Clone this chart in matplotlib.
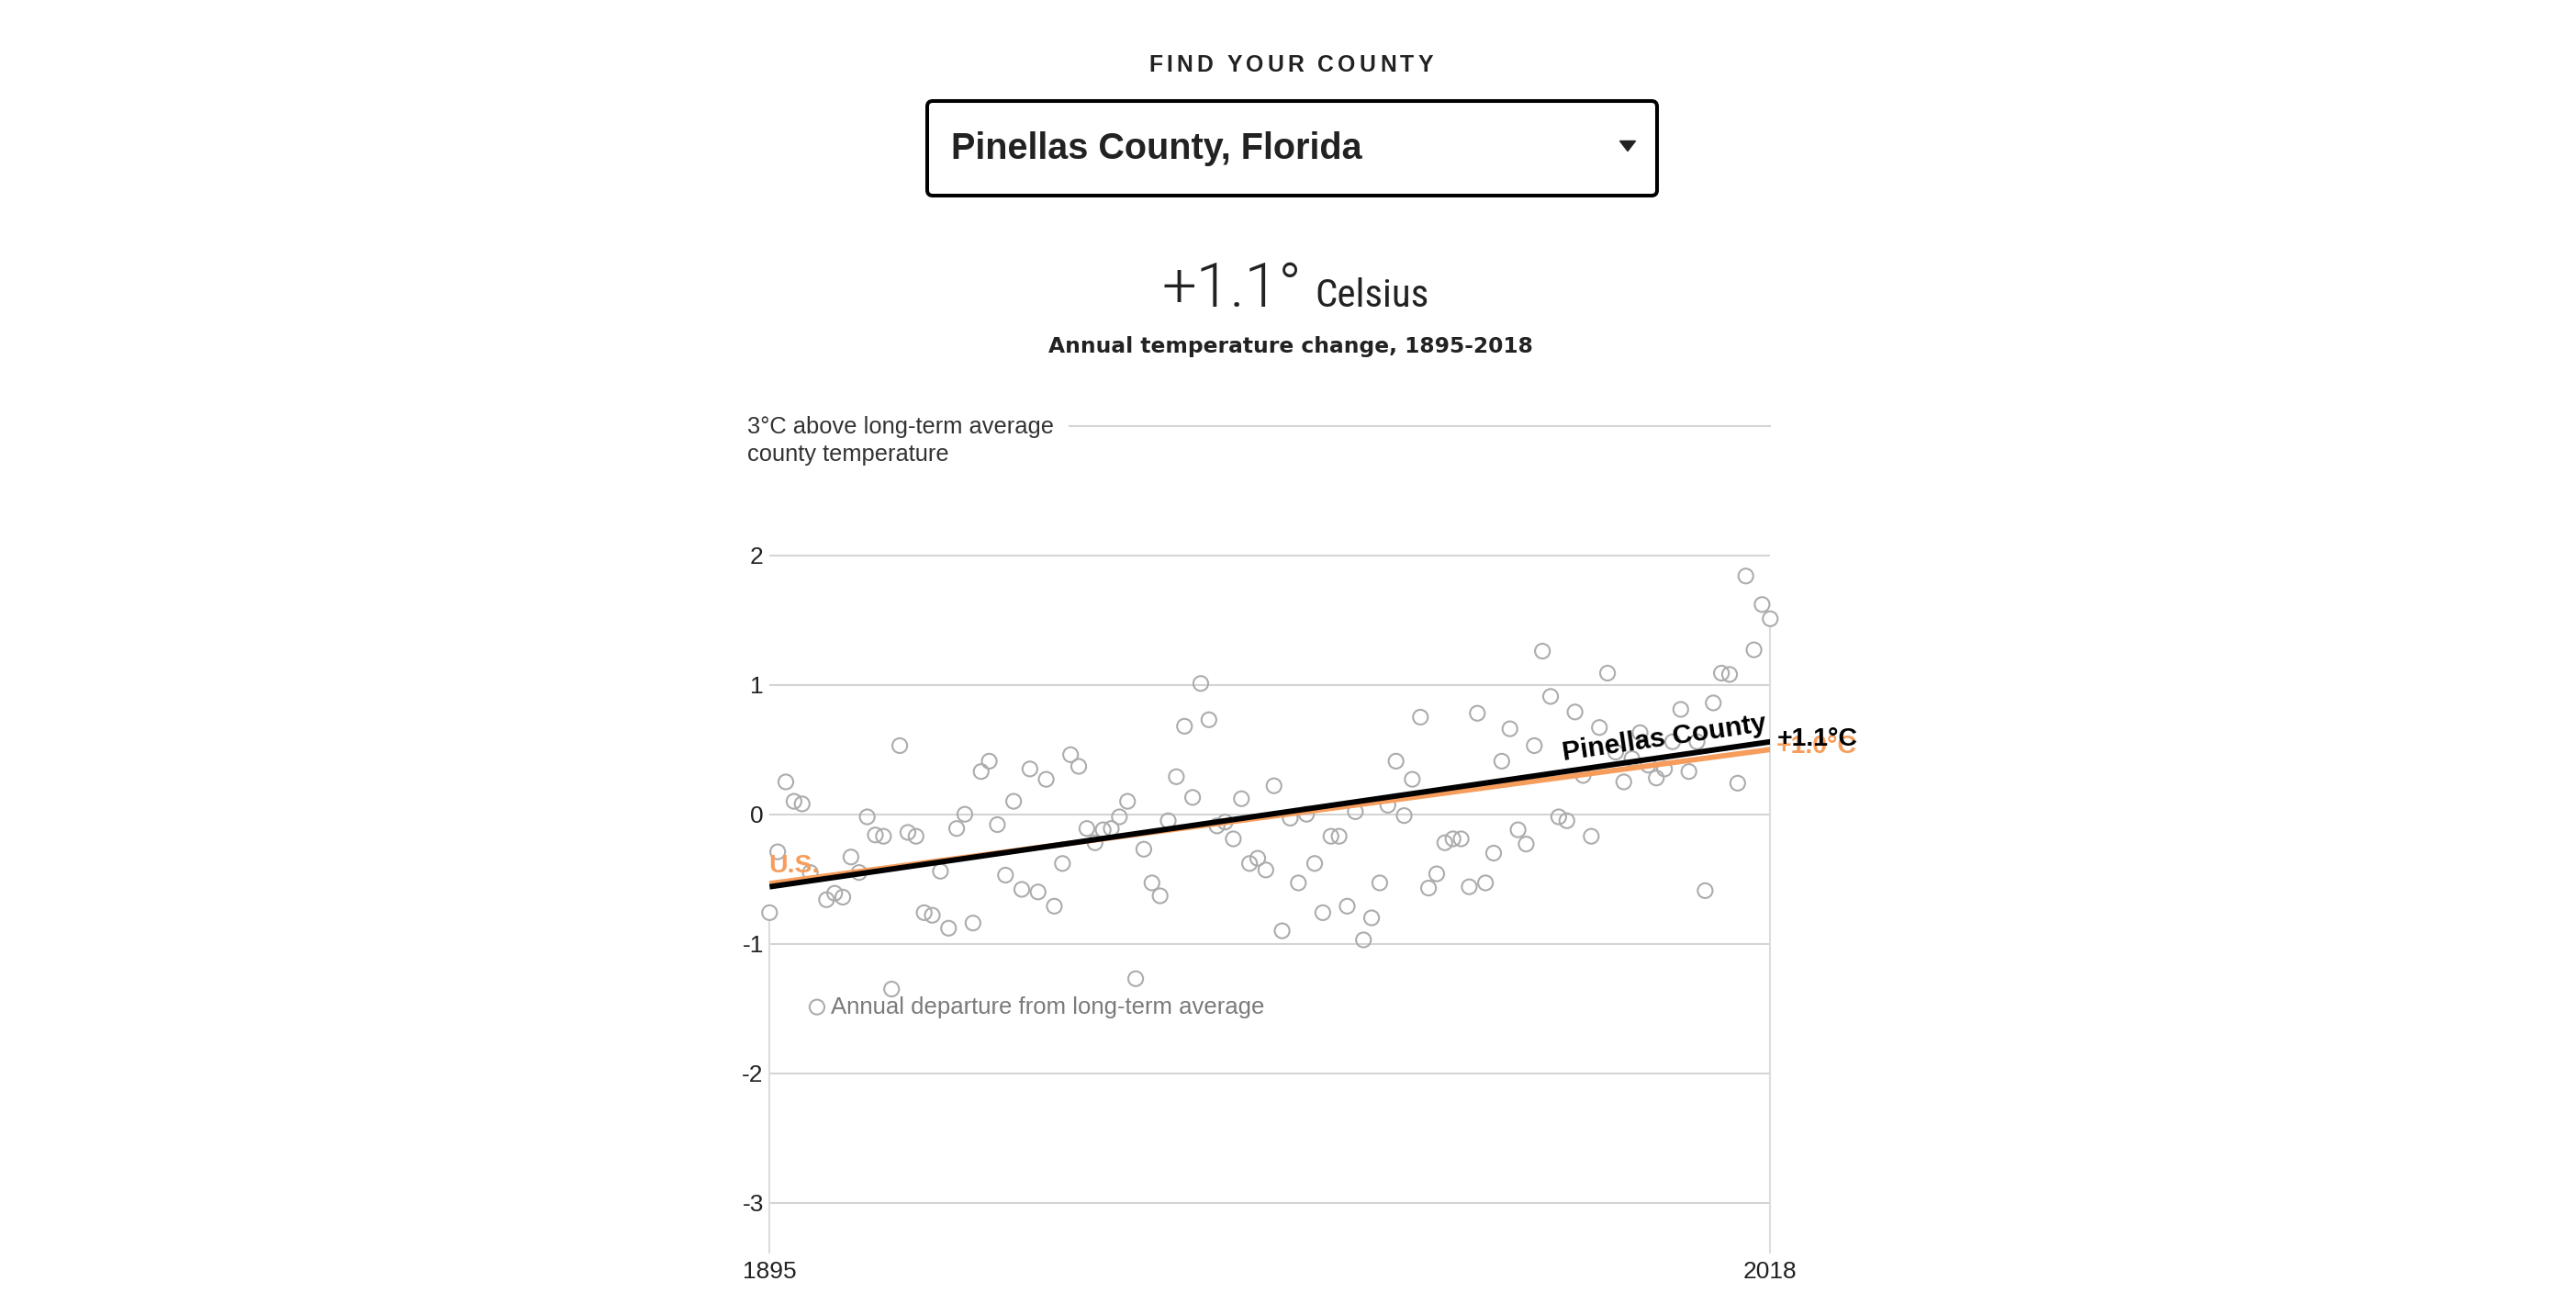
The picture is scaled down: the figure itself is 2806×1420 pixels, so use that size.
import numpy as np
import matplotlib
matplotlib.use("Agg")
import matplotlib.pyplot as plt
import matplotlib.transforms as mtransforms
from matplotlib import font_manager
from matplotlib.patches import FancyBboxPatch, Polygon

W, H, DPI = 2806, 1420, 100

# chart data, degrees C departure from long-term average
# there is no dot drawn for 1901
years = [y for y in range(1895, 2019) if y != 1901]
anomaly = [
    -0.76, -0.29, 0.25, 0.10, 0.08, -0.45,
    -0.66, -0.61, -0.64, -0.33, -0.45, -0.02, -0.16, -0.17,
    -1.35, 0.53, -0.14, -0.17, -0.76, -0.78, -0.44, -0.88, -0.11, 0.00,
    -0.84, 0.33, 0.41, -0.08, -0.47, 0.10, -0.58, 0.35, -0.60, 0.27,
    -0.71, -0.38, 0.46, 0.37, -0.11, -0.22, -0.12, -0.11, -0.02, 0.10,
    -1.27, -0.27, -0.53, -0.63, -0.05, 0.29, 0.68, 0.13, 1.01, 0.73,
    -0.09, -0.06, -0.19, 0.12, -0.38, -0.34, -0.43, 0.22, -0.90, -0.03,
    -0.53, 0.00, -0.38, -0.76, -0.17, -0.17, -0.71, 0.02, -0.97, -0.80,
    -0.53, 0.07, 0.41, -0.01, 0.27, 0.75, -0.57, -0.46, -0.22, -0.19,
    -0.19, -0.56, 0.78, -0.53, -0.30, 0.41, 0.66, -0.12, -0.23, 0.53,
    1.26, 0.91, -0.02, -0.05, 0.79, 0.30, -0.17, 0.67, 1.09, 0.48,
    0.25, 0.43, 0.63, 0.38, 0.28, 0.35, 0.56, 0.81, 0.33, 0.56,
    -0.59, 0.86, 1.09, 1.08, 0.24, 1.84, 1.27, 1.62, 1.51,
]
trend_years = [1895, 2018]
county_trend = [-0.56, 0.56]
us_trend = [-0.535, 0.50]
y_ticks = [-3, -2, -1, 0, 1, 2]
x_ticks = [1895, 2018]

ORANGE = '#f79d5c'
DARK = '#222222'
GRID = '#d4d4d4'
DOT = '#acacac'

installed = {f.name for f in font_manager.fontManager.ttflist}


def pick(*names):
    for n in names:
        if n in installed:
            return n
    return 'DejaVu Sans'


SANS = pick('Liberation Sans', 'Arimo', 'DejaVu Sans')
NARROW = pick('Liberation Sans Narrow', 'Roboto Condensed', 'Liberation Sans')
LIGHT = pick('Roboto', 'Liberation Sans')
WIDE = pick('DejaVu Sans')

fig = plt.figure(figsize=(W / DPI, H / DPI), dpi=DPI)
fig.patch.set_facecolor('white')
# pixel coords measured from the top-left corner
pix = mtransforms.Affine2D().scale(1 / DPI, -1 / DPI).translate(0, H / DPI) + fig.dpi_scale_trans


def tracked_text(x, y, s, width, **kw):
    r = fig.canvas.get_renderer()
    em = kw.get('fontsize', 12) * DPI / 72
    parts = []
    for ch in s:
        t = fig.text(0, 0, ch, transform=pix, va='baseline', **kw)
        w = t.get_window_extent(r).width if ch.strip() else 0.25 * em
        parts.append((t, w))
    gap = (width - sum(w for _, w in parts)) / (len(parts) - 1)
    for t, w in parts:
        t.set_position((x, y))
        x += w + gap


# header
tracked_text(1251, 78, 'FIND YOUR COUNTY', 310, fontsize=17.8, fontweight='bold',
             family=SANS, color=DARK)
fig.patches.append(FancyBboxPatch((1010, 110), 795, 103, transform=pix,
                                  boxstyle='round,pad=0,rounding_size=6',
                                  facecolor='white', edgecolor='black', lw=2.9))
fig.patches.append(Polygon([(1764.5, 153.5), (1781.5, 153.5), (1773, 164.5)],
                           closed=True, transform=pix, color=DARK))
fig.text(1036, 173, 'Pinellas County, Florida', transform=pix, va='baseline',
         fontsize=28.5, fontweight='bold', family=SANS, color=DARK)
fig.text(1266, 334, '+1.1°', transform=pix, va='baseline', fontsize=48,
         fontweight=300, family=LIGHT, color=DARK)
fig.text(1432, 334, 'Celsius', transform=pix, va='baseline', fontsize=31,
         family=NARROW, color=DARK)
fig.text(1406, 384, 'Annual temperature change, 1895-2018', transform=pix,
         va='baseline', ha='center', fontsize=16.8, fontweight='bold',
         family=WIDE, color=DARK)
fig.text(814, 472, '3°C above long-term average', transform=pix, va='baseline',
         fontsize=18.4, family=SANS, color='#333333')
fig.text(814, 502, 'county temperature', transform=pix, va='baseline',
         fontsize=18.4, family=SANS, color='#333333')

# plot area: 1895 -> x=838px, 2018 -> x=1928px, y=0 at 886.7px, 141px per degree
ymin, ymax = -3.39, 3
top_px = 886.7 - ymax * 141
bot_px = 886.7 - ymin * 141
ax = fig.add_axes([838.3 / W, 1 - bot_px / H, 1090 / W, (bot_px - top_px) / H])
ax.set_xlim(1895, 2018)
ax.set_ylim(ymin, ymax)
ax.patch.set_alpha(0)
for s in ax.spines.values():
    s.set_visible(False)

for v in y_ticks:
    ax.axhline(v, color=GRID, lw=1.5, zorder=0)
ax.axhline(3, xmin=0.30, color=GRID, lw=1.5, zorder=0, clip_on=False)

ax.set_yticks(y_ticks)
ax.set_yticklabels([str(v) for v in y_ticks])
ax.set_xticks(x_ticks)
ax.set_xticklabels([str(v) for v in x_ticks])
ax.tick_params(axis='y', length=0, pad=4.7, labelsize=19, labelcolor=DARK)
ax.tick_params(axis='x', length=0, pad=5.8, labelsize=19, labelcolor=DARK)
for lab in ax.get_xticklabels() + ax.get_yticklabels():
    lab.set_fontfamily(SANS)

# end-year drop lines
r_deg = 9 / 141
ax.vlines([years[0], years[-1]], ymin, [anomaly[0] - r_deg, anomaly[-1] - r_deg],
          color='#dddddd', lw=1.5, zorder=1, clip_on=False)

ax.scatter(years, anomaly, s=135, facecolors='none', edgecolors=DOT,
           linewidths=1.5, zorder=3, clip_on=False)

ax.plot(trend_years, us_trend, color=ORANGE, lw=4.2, solid_capstyle='butt', zorder=4)
ax.plot(trend_years, county_trend, color='black', lw=4.3, solid_capstyle='butt', zorder=5)

p0 = ax.transData.transform((trend_years[0], county_trend[0]))
p1 = ax.transData.transform((trend_years[1], county_trend[1]))
angle = np.degrees(np.arctan2(p1[1] - p0[1], p1[0] - p0[0]))

ax.annotate('Pinellas County', xy=(trend_years[1], county_trend[1]), xytext=(-3, 12),
            textcoords='offset pixels', rotation=angle, rotation_mode='anchor',
            ha='right', va='baseline', fontsize=21.5, fontweight='bold',
            family=SANS, color='black', zorder=6, annotation_clip=False)
ax.annotate('+1.0°C', xy=(trend_years[1], us_trend[1]), xytext=(6, 3),
            textcoords='offset pixels', ha='left', va='center', fontsize=20.5,
            fontweight='bold', family=SANS, color=ORANGE, zorder=6,
            annotation_clip=False)
ax.annotate('+1.1°C', xy=(trend_years[1], county_trend[1]), xytext=(7, 3),
            textcoords='offset pixels', ha='left', va='center', fontsize=20.5,
            fontweight='bold', family=SANS, color='black', zorder=7,
            annotation_clip=False)
ax.annotate('U.S.', xy=(trend_years[0], us_trend[0]), xytext=(-1, 12),
            textcoords='offset pixels', ha='left', va='baseline', fontsize=20.5,
            fontweight='bold', family=SANS, color=ORANGE, zorder=6,
            annotation_clip=False)

# legend
ax.scatter([0.0474], [0.2975], transform=ax.transAxes, s=135, facecolors='none',
           edgecolors=DOT, linewidths=1.5, clip_on=False)
ax.text(0.0615, 0.2975, 'Annual departure from long-term average', transform=ax.transAxes,
        va='center', ha='left', fontsize=18.5, family=SANS, color='#7a7a7a')

fig.savefig('out.png', dpi=DPI, facecolor='white')
